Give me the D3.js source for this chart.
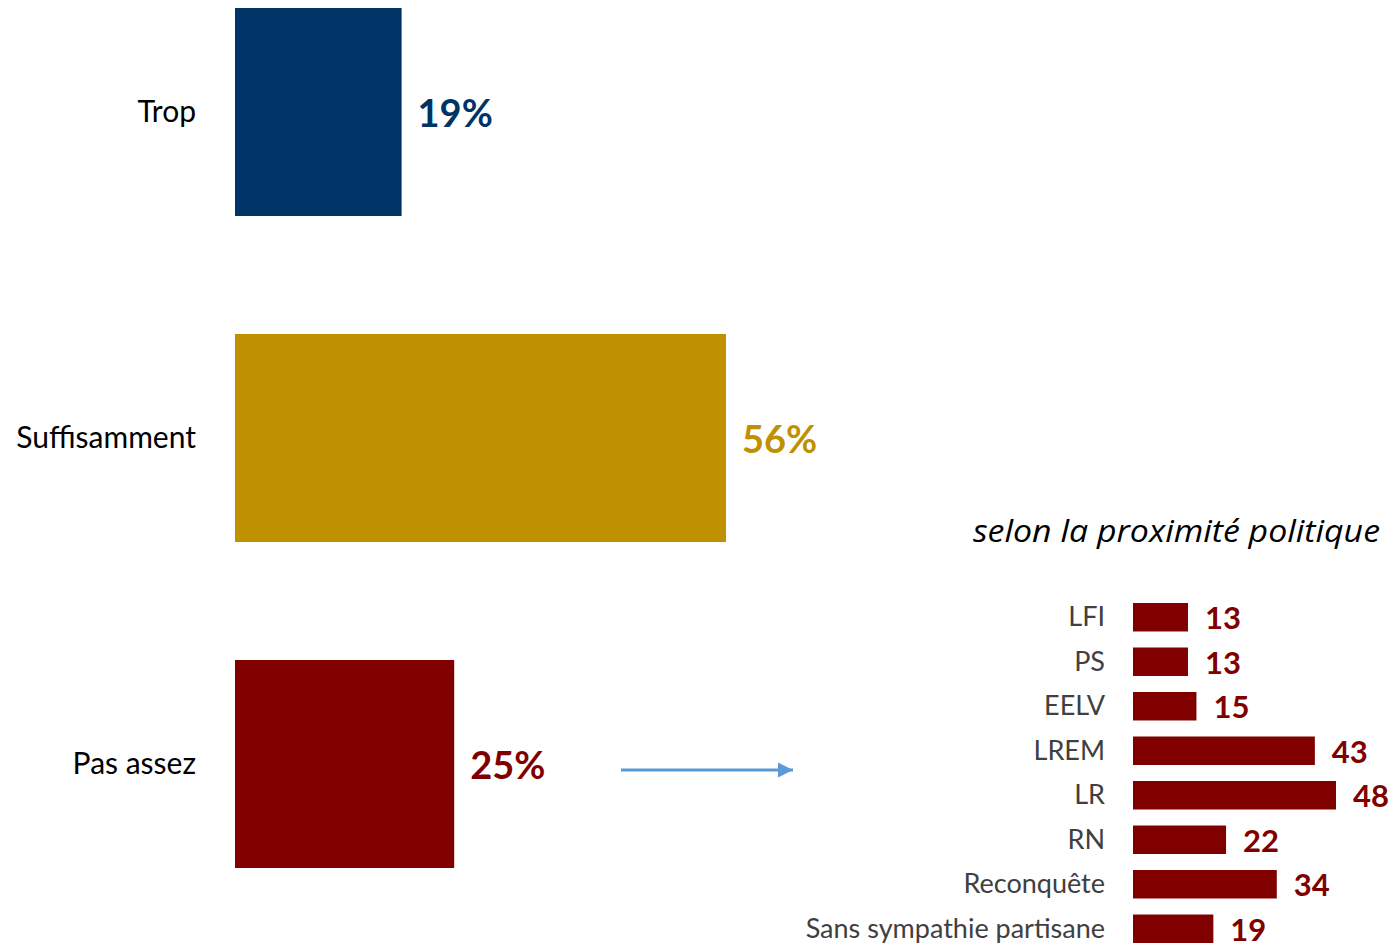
<!DOCTYPE html>
<html><head><meta charset="utf-8">
<script src="https://cdn.jsdelivr.net/npm/d3@7"></script>
<style>body{margin:0;background:#fff}svg{display:block}text{font-family:Lato,"Open Sans",sans-serif}</style>
</head><body>
<svg id="c" width="1397" height="945"></svg>
<script>
const mainCategories = ["Trop", "Suffisamment", "Pas assez"];
const mainValues = [19, 56, 25];
const mainColors = ["#003366", "#BF9000", "#800000"];
const partyCategories = ["LFI", "PS", "EELV", "LREM", "LR", "RN", "Reconquête", "Sans sympathie partisane"];
const partyValues = [13, 13, 15, 43, 48, 22, 34, 19];
const subTitle = "selon la proximité politique";

const svg = d3.select("#c");

// main chart
const x = d3.scaleLinear().domain([0, 56]).range([235, 726]);
const y = d3.scaleBand().domain(mainCategories).range([8, 868]).paddingInner(0.362).paddingOuter(0);
const g = svg.append("g");
g.selectAll("rect").data(mainCategories).join("rect")
  .attr("x", x(0)).attr("y", d => y(d))
  .attr("width", (d, i) => x(mainValues[i]) - x(0)).attr("height", y.bandwidth())
  .attr("fill", (d, i) => mainColors[i]);
g.selectAll("text.cat").data(mainCategories).join("text").attr("class", "cat")
  .attr("x", 196).attr("y", d => y(d) + y.bandwidth() / 2 + 10)
  .attr("text-anchor", "end").attr("font-size", 30).attr("fill", "#000").text(d => d);
g.selectAll("text.val").data(mainCategories).join("text").attr("class", "val")
  .attr("x", (d, i) => x(mainValues[i]) + 16).attr("y", d => y(d) + y.bandwidth() / 2 + 15)
  .attr("font-size", 38).attr("font-weight", "bold").attr("fill", (d, i) => mainColors[i])
  .text((d, i) => mainValues[i] + "%");

// arrow
svg.append("defs").append("marker").attr("id", "ah").attr("viewBox", "0 0 10 10")
  .attr("refX", 10).attr("refY", 5).attr("markerWidth", 5.5).attr("markerHeight", 5.5)
  .attr("markerUnits", "strokeWidth").attr("orient", "auto")
  .append("path").attr("d", "M0,0L10,5L0,10Z").attr("fill", "#5B9BD5");
svg.append("line").attr("x1", 621).attr("x2", 793).attr("y1", 770).attr("y2", 770)
  .attr("stroke", "#5B9BD5").attr("stroke-width", 2.8).attr("marker-end", "url(#ah)");

// sub chart
svg.append("text").attr("x", 1380).attr("y", 542).attr("text-anchor", "end")
  .attr("font-size", 31).attr("font-style", "italic").attr("fill", "#000")
  .style("font-family", "'Open Sans', sans-serif")
  .attr("textLength", 407).attr("lengthAdjust", "spacingAndGlyphs").text(subTitle);
const x2 = d3.scaleLinear().domain([0, 48]).range([1133, 1336]);
const y2 = d3.scaleBand().domain(partyCategories).range([603, 943]).paddingInner(0.36).paddingOuter(0);
const g2 = svg.append("g");
g2.selectAll("rect").data(partyCategories).join("rect")
  .attr("x", x2(0)).attr("y", d => y2(d))
  .attr("width", (d, i) => x2(partyValues[i]) - x2(0)).attr("height", y2.bandwidth())
  .attr("fill", "#800000");
g2.selectAll("text.cat").data(partyCategories).join("text").attr("class", "cat")
  .attr("x", 1105).attr("y", d => y2(d) + y2.bandwidth() / 2 + 9)
  .attr("text-anchor", "end").attr("font-size", 27).attr("fill", "#404040").text(d => d);
g2.selectAll("text.val").data(partyCategories).join("text").attr("class", "val")
  .attr("x", (d, i) => x2(partyValues[i]) + 17).attr("y", d => y2(d) + y2.bandwidth() / 2 + 12)
  .attr("font-size", 31).attr("font-weight", "bold").attr("fill", "#800000")
  .text((d, i) => partyValues[i]);
</script>
</body></html>
